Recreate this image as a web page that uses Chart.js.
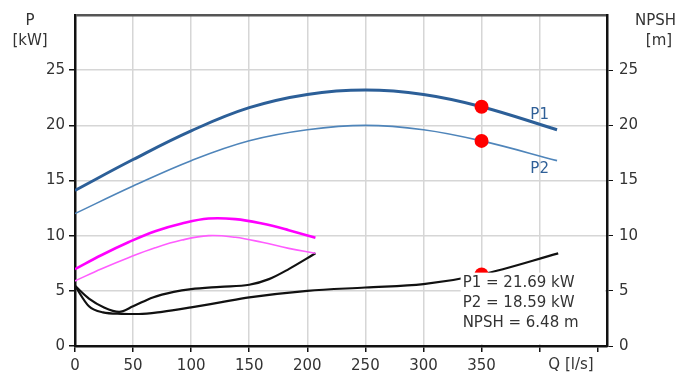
<!DOCTYPE html>
<html>
<head>
<meta charset="utf-8">
<script src="https://cdn.jsdelivr.net/npm/chart.js@4.4.0/dist/chart.umd.min.js"></script>
<style>
  html, body { margin: 0; padding: 0; background: #fff; }
  #wrap { width: 682px; height: 374px; position: relative; }
</style>
</head>
<body>
<div id="wrap"><canvas id="pumpChart" width="682" height="374"></canvas></div>
<script>
const qLarge = [0, 50, 100, 150, 200, 250, 300, 350, 415];
const p1Large = [14.1, 16.9, 19.5, 21.6, 22.8, 23.2, 22.8, 21.69, 19.6];
const p2Large = [12.0, 14.5, 16.8, 18.6, 19.6, 20.0, 19.6, 18.59, 16.8];

const qSmall = [0, 23, 46, 69, 92, 115, 138, 161, 184, 207];
const p1Small = [6.97, 8.25, 9.4, 10.4, 11.1, 11.55, 11.5, 11.1, 10.5, 9.8];
const p2Small = [5.9, 7.0, 8.0, 8.9, 9.6, 10.0, 9.85, 9.4, 8.85, 8.4];

const qNpshLarge = [0, 12, 24, 40, 55, 75, 100, 125, 150, 200, 250, 300, 350, 416];
const npshLarge = [5.45, 3.6, 3.05, 2.92, 2.9, 3.1, 3.5, 3.95, 4.4, 5.0, 5.3, 5.6, 6.48, 8.4];

const qNpshSmall = [0, 12, 25, 38, 50, 67, 85, 100, 125, 150, 167, 184, 207];
const npshSmall = [5.45, 4.3, 3.5, 3.1, 3.6, 4.4, 4.9, 5.15, 5.36, 5.55, 6.06, 6.97, 8.4];

const dutyQ = 350;
const dutyValues = [21.69, 18.59, 6.48];
const infoLines = ['P1 = 21.69 kW', 'P2 = 18.59 kW', 'NPSH = 6.48 m'];

const xLabelMax = 350;
const axisMax = 30;

const FONT = 'DejaVu Sans';
const TEXT = '#333';

function pts(xs, ys) {
    return xs.map((x, i) => ({ x: x, y: ys[i] }));
}

function curve(data, color, width, mode) {
    return {
        data: data,
        borderColor: color,
        borderWidth: width,
        pointRadius: 0,
        fill: false,
        tension: 0.4,
        cubicInterpolationMode: mode || 'default',
        order: 2
    };
}

// textos extras: titulos dos eixos, rotulos P1/P2 e caixa de valores
const textPlugin = {
    id: 'textPlugin',
    afterDatasetsDraw(chart) {
        const { ctx, scales } = chart;
        const x = scales.x, y = scales.y;
        // caixa branca com os valores no ponto de trabalho
        const left = x.getPixelForValue(332);
        const top = y.getPixelForValue(6.65);
        ctx.save();
        ctx.fillStyle = '#fff';
        ctx.fillRect(left, top, chart.chartArea.right - left - 2, chart.chartArea.bottom - top - 2);
        ctx.fillStyle = TEXT;
        ctx.font = '15px "' + FONT + '"';
        ctx.textAlign = 'left';
        ctx.textBaseline = 'middle';
        infoLines.forEach((t, i) => ctx.fillText(t, left + 2, top + 10 + i * 20));
        ctx.restore();
    },
    afterDraw(chart) {
        const { ctx, scales } = chart;
        const x = scales.x, y = scales.y;
        ctx.save();
        ctx.fillStyle = TEXT;
        ctx.textBaseline = 'middle';
        ctx.font = '15px "' + FONT + '"';
        ctx.textAlign = 'center';
        ctx.fillText('P', 30, 21);
        ctx.fillText('[kW]', 30, 41);
        ctx.fillText('[m]', 659, 41);
        ctx.textAlign = 'left';
        ctx.fillText('NPSH', 635, 21);
        ctx.textAlign = 'center';
        ctx.fillText('Q [l/s]', 571, 365);

        ctx.fillStyle = '#2f5f97';
        ctx.fillText('P1', x.getPixelForValue(400), y.getPixelForValue(20.9));
        ctx.fillText('P2', x.getPixelForValue(400), y.getPixelForValue(16.0));
        ctx.restore();
    }
};

const tickFont = { family: FONT, size: 15 };

new Chart(document.getElementById('pumpChart'), {
    type: 'line',
    data: {
        datasets: [
            {
                data: dutyValues.map(v => ({ x: dutyQ, y: v })),
                showLine: false,
                pointRadius: 7,
                pointBackgroundColor: '#ff0000',
                pointBorderColor: '#ff0000',
                pointBorderWidth: 0,
                order: 1
            },
            curve(pts(qLarge, p1Large), '#2c5f98', 3),
            curve(pts(qLarge, p2Large), '#4f85ba', 1.6),
            curve(pts(qSmall, p1Small), '#ff00ff', 2.6),
            curve(pts(qSmall, p2Small), '#ff5cff', 1.6),
            curve(pts(qNpshLarge, npshLarge), '#111', 2.2, 'monotone'),
            curve(pts(qNpshSmall, npshSmall), '#111', 2.2, 'monotone')
        ]
    },
    options: {
        responsive: false,
        animation: false,
        layout: { padding: { top: 14, right: 0, left: 0, bottom: 0 } },
        plugins: {
            legend: { display: false },
            tooltip: { enabled: false }
        },
        scales: {
            x: {
                type: 'linear',
                min: 0,
                max: 458,
                afterFit: s => { s.height = 28; },
                border: { color: '#111', width: 2.5 },
                grid: {
                    color: c => (c.tick.value === 0 || c.tick.value > 400) ? 'rgba(0,0,0,0)' : '#d6d6d6',
                    lineWidth: 1.5,
                    tickColor: '#111',
                    tickLength: 6
                },
                ticks: {
                    stepSize: 50,
                    includeBounds: false,
                    maxRotation: 0,
                    autoSkip: false,
                    padding: 5,
                    color: TEXT,
                    font: tickFont,
                    callback: v => v <= xLabelMax ? v : ''
                }
            },
            y: {
                min: 0,
                max: axisMax,
                afterFit: s => { s.width = 75; },
                border: { color: '#111', width: 2.5 },
                grid: {
                    color: c => c.tick.value === axisMax ? '#555' : (c.tick.value === 0 ? 'rgba(0,0,0,0)' : '#d6d6d6'),
                    lineWidth: c => c.tick.value === axisMax ? 2.5 : 1.5,
                    tickColor: c => c.tick.value === axisMax ? 'rgba(0,0,0,0)' : '#111',
                    tickLength: 6
                },
                ticks: {
                    stepSize: 5,
                    padding: 4,
                    color: TEXT,
                    font: tickFont,
                    callback: v => v < axisMax ? v : ''
                }
            },
            y1: {
                position: 'right',
                min: 0,
                max: axisMax,
                afterFit: s => { s.width = 75; },
                border: { color: '#111', width: 2.5 },
                grid: {
                    drawOnChartArea: false,
                    tickColor: c => c.tick.value === axisMax ? 'rgba(0,0,0,0)' : '#111',
                    tickLength: 6
                },
                ticks: {
                    stepSize: 5,
                    padding: 6,
                    color: TEXT,
                    font: tickFont,
                    callback: v => v < axisMax ? v : ''
                }
            }
        }
    },
    plugins: [textPlugin]
});
</script>
</body>
</html>
